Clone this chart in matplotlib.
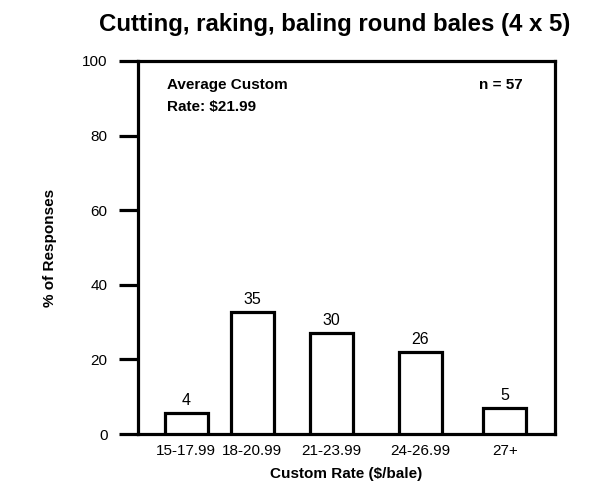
import numpy as np
import matplotlib.pyplot as plt

# donnees
categories = ["15-17.99", "18-20.99", "21-23.99", "24-26.99", "27+"]
bar_heights = [5.7, 32.8, 27.0, 22.0, 7.0]
bar_labels = ["4", "35", "30", "26", "5"]
yticks = [0, 20, 40, 60, 80, 100]

# position des barres (espacement irregulier comme l'original)
xpos = [1.16, 2.74, 4.63, 6.77, 8.80]

plt.rcParams['font.family'] = ['Liberation Sans', 'DejaVu Sans']

fig = plt.figure(figsize=(6, 5), dpi=100)
ax = fig.add_axes([0.23, 0.132, 0.695, 0.746])

lw = 2.3
ax.bar(xpos, bar_heights, width=1.03, color="white", edgecolor="black", linewidth=lw, zorder=3)
for x, h, lab in zip(xpos, bar_heights, bar_labels):
	ax.annotate(lab, (x, h), xytext=(0, 3.5), textcoords="offset points",
				ha="center", va="bottom", fontsize=11.5)

ax.set_xlim(0, 10)
ax.set_ylim(0, 100)
ax.set_xticks(xpos)
ax.set_xticklabels(categories, fontsize=11)
ax.tick_params(axis="x", length=0, pad=7)
ax.set_yticks(yticks)
ax.tick_params(axis="y", length=14, width=lw, direction="out", labelsize=11, pad=8)
for s in ax.spines.values():
	s.set_linewidth(lw)

ax.set_xlabel("Custom Rate ($/bale)", fontsize=11, fontweight="bold", labelpad=7)
ax.set_ylabel("% of Responses", fontsize=11, fontweight="bold", labelpad=18)
fig.text(0.558, 0.952, "Cutting, raking, baling round bales (4 x 5)", fontsize=17.3,
		 fontweight="bold", ha="center", va="center")

ax.text(0.07, 0.955, "Average Custom\nRate: $21.99", transform=ax.transAxes, fontsize=11,
		fontweight="bold", va="top", ha="left", linespacing=1.75)
ax.text(0.923, 0.955, "n = 57", transform=ax.transAxes, fontsize=11,
		fontweight="bold", va="top", ha="right")

fig.savefig("out.png", dpi=100)
